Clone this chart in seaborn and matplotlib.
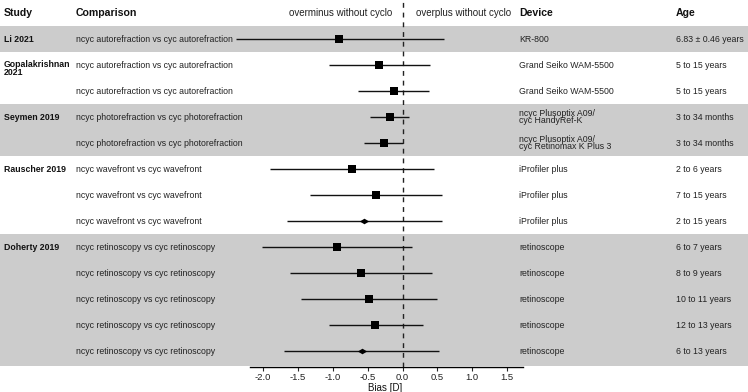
import numpy as np
import pandas as pd
import matplotlib
matplotlib.use("Agg")
import matplotlib.pyplot as plt
from matplotlib.path import Path
import seaborn as sns

# data
studies = ["Li 2021", "Gopalakrishnan\n2021", "", "Seymen 2019", "",
           "Rauscher 2019", "", "", "Doherty 2019", "", "", "", ""]
comparisons = (["ncyc autorefraction vs cyc autorefraction"] * 3
               + ["ncyc photorefraction vs cyc photorefraction"] * 2
               + ["ncyc wavefront vs cyc wavefront"] * 3
               + ["ncyc retinoscopy vs cyc retinoscopy"] * 5)
devices = ["KR-800", "Grand Seiko WAM-5500", "Grand Seiko WAM-5500",
           "ncyc Plusoptix A09/\ncyc HandyRef-K",
           "ncyc Plusoptix A09/\ncyc Retinomax K Plus 3",
           "iProfiler plus", "iProfiler plus", "iProfiler plus",
           "retinoscope", "retinoscope", "retinoscope", "retinoscope", "retinoscope"]
ages = ["6.83 \u00b1 0.46 years", "5 to 15 years", "5 to 15 years",
        "3 to 34 months", "3 to 34 months",
        "2 to 6 years", "7 to 15 years", "2 to 15 years",
        "6 to 7 years", "8 to 9 years", "10 to 11 years", "12 to 13 years", "6 to 13 years"]
bias = [-0.91, -0.335, -0.125, -0.18, -0.27, -0.72, -0.38, -0.55,
        -0.945, -0.59, -0.48, -0.39, -0.585]
lower = [-2.39, -1.06, -0.64, -0.46, -0.55, -1.90, -1.32, -1.66,
         -2.02, -1.61, -1.45, -1.06, -1.70]
upper = [0.60, 0.39, 0.38, 0.09, 0.0, 0.45, 0.57, 0.57,
         0.13, 0.42, 0.50, 0.30, 0.52]
kind = ["single"] * 7 + ["pooled"] + ["single"] * 4 + ["pooled"]
# study groups -> (first row, last row, shaded)
groups = [(0, 0, True), (1, 2, False), (3, 4, True), (5, 7, False), (8, 12, True)]
ticks = [-2.0, -1.5, -1.0, -0.5, 0.0, 0.5, 1.0, 1.5]

df = pd.DataFrame({"row": np.arange(len(bias)), "bias": bias, "lo": lower,
                   "hi": upper, "kind": kind})

sns.set_theme(style="white")
plt.rcParams["font.family"] = ["Liberation Sans", "DejaVu Sans"]

fig = plt.figure(figsize=(7.48, 3.92), dpi=100)
W, H = 748, 392
spine_px = 367
ax = fig.add_axes([0, (H - spine_px) / H, 1, spine_px / H])

# pixel mapping: 0.0 at px 402.5, 69.7 px per dioptre; row r centred at 39 + 26 r
x0, ppu = 402.5, 69.7
ax.set_xlim((0 - x0) / ppu, (W - x0) / ppu)
ax.set_ylim((spine_px - 39) / 26, (0 - 39) / 26)

def px(xp):
    return (xp - x0) / ppu

for a, b, shaded in groups:
    if shaded:
        ax.axhspan(a - 0.5, b + 0.5 if b < 12 else 12.58, color="#cccccc", lw=0, zorder=0)

ax.axvline(0, color="#222222", ls=(0, (3.5, 3.5)), lw=1.0, zorder=1)
ax.hlines(df["row"], df["lo"], df["hi"], color="#111111", lw=1.0, zorder=2)

diamond = Path([(-1, 0), (0, 0.6), (1, 0), (0, -0.6), (-1, 0)],
               [Path.MOVETO, Path.LINETO, Path.LINETO, Path.LINETO, Path.CLOSEPOLY])
sns.scatterplot(data=df[df["kind"] == "single"], x="bias", y="row", marker="s",
                s=40, color="black", edgecolor="black", linewidth=0, ax=ax, zorder=3)
sns.scatterplot(data=df[df["kind"] == "pooled"], x="bias", y="row", marker=diamond,
                s=45, color="black", edgecolor="black", linewidth=0, ax=ax, zorder=3)

fs = 6.3
txt = "#222222"
for r in range(len(bias)):
    if studies[r]:
        multi = "\n" in studies[r]
        ax.text(px(4), r - 0.19 if multi else r, studies[r], ha="left",
                va="top" if multi else "center", fontsize=fs,
                fontweight="bold", color="#111111", linespacing=0.85)
    ax.text(px(76), r, comparisons[r], ha="left", va="center", fontsize=fs, color=txt)
    ax.text(px(519), r, devices[r], ha="left", va="center", fontsize=fs, color=txt,
            linespacing=0.85)
    ax.text(px(676), r, ages[r], ha="left", va="center", fontsize=fs, color=txt)

hy = -1.0
for xp, label in [(4, "Study"), (76, "Comparison"), (519, "Device"), (676, "Age")]:
    ax.text(px(xp), hy, label, ha="left", va="center", fontsize=7.6,
            fontweight="bold", color="#111111")
ax.text(px(392), hy, "overminus without cyclo", ha="right", va="center",
        fontsize=7, color=txt)
ax.text(px(416), hy, "overplus without cyclo", ha="left", va="center",
        fontsize=7, color=txt)

sns.despine(ax=ax, left=True)
ax.spines["bottom"].set_bounds(px(250), px(523))
ax.spines["bottom"].set_color("black")
ax.spines["bottom"].set_linewidth(1.0)
ax.set_yticks([])
ax.set_xticks(ticks)
ax.set_xticklabels([f"{t:.1f}" for t in ticks])
ax.tick_params(axis="x", bottom=True, direction="out", length=3, width=0.8,
               labelsize=6.8, labelcolor=txt, pad=1.5)
ax.set_xlabel("Bias [D]", fontsize=7, color="#111111", labelpad=0.5)
ax.xaxis.set_label_coords(385 / W, -0.044)
ax.set_ylabel("")

fig.savefig("out.png", dpi=100)
